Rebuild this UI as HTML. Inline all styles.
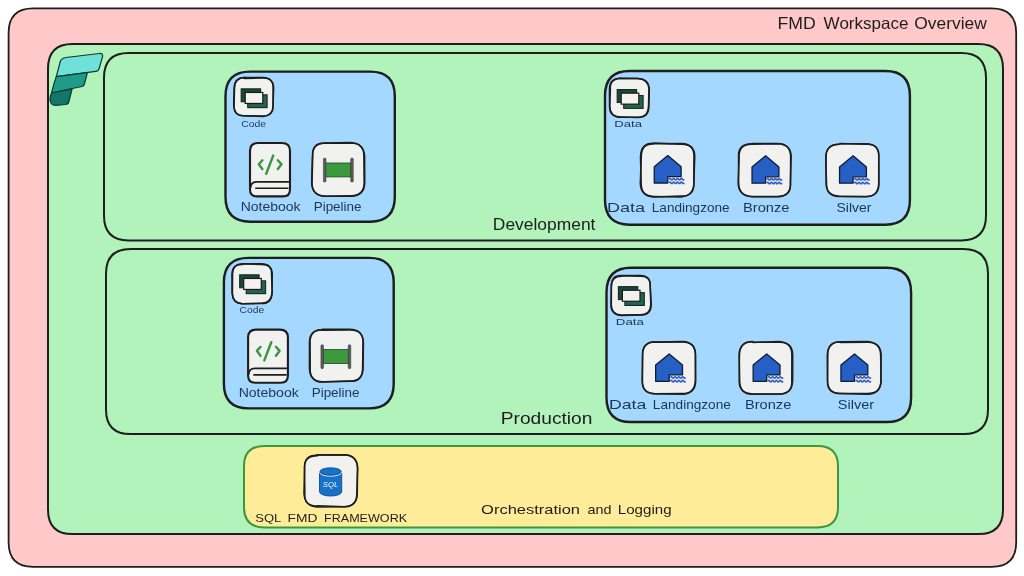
<!DOCTYPE html>
<html><head><meta charset="utf-8"><style>
html,body{margin:0;padding:0;background:#fff;width:1024px;height:576px;overflow:hidden}
svg{display:block}
text{font-family:"Liberation Sans",sans-serif}
svg{will-change:transform}
</style></head><body>
<svg width="1024" height="576" viewBox="0 0 1024 576">
<rect width="1024" height="576" fill="#ffffff"/>
<path d="M33.20 8.40L991.60 8.40Q1016.20 8.40 1016.20 33.00L1016.20 542.20Q1016.20 566.80 991.60 566.80L33.20 566.80Q8.60 566.80 8.60 542.20L8.60 33.00Q8.60 8.40 33.20 8.40Z" fill="#ffc9c9" stroke="#1e1e1e" stroke-width="1.8"/>
<path d="M72.60 44.00L978.40 44.00Q1003.00 44.00 1003.00 68.60L1003.00 509.40Q1003.00 534.00 978.40 534.00L72.60 534.00Q48.00 534.00 48.00 509.40L48.00 68.60Q48.00 44.00 72.60 44.00Z" fill="#b2f2bb" stroke="#1e1e1e" stroke-width="2"/>
<path d="M128.60 53.10L961.40 53.10Q986.00 53.10 986.00 77.70L986.00 215.80Q986.00 240.40 961.40 240.40L128.60 240.40Q104.00 240.40 104.00 215.80L104.00 77.70Q104.00 53.10 128.60 53.10Z" fill="#b2f2bb" stroke="#1e1e1e" stroke-width="2"/>
<path d="M130.60 249.00L963.40 249.00Q988.00 249.00 988.00 273.60L988.00 409.40Q988.00 434.00 963.40 434.00L130.60 434.00Q106.00 434.00 106.00 409.40L106.00 273.60Q106.00 249.00 130.60 249.00Z" fill="#b2f2bb" stroke="#1e1e1e" stroke-width="2"/>
<path d="M250.10 71.60L370.20 71.60Q394.80 71.60 394.80 96.20L394.80 197.10Q394.80 221.70 370.20 221.70L250.10 221.70Q225.50 221.70 225.50 197.10L225.50 96.20Q225.50 71.60 250.10 71.60Z" fill="#a5d8ff" stroke="#1e1e1e" stroke-width="2.4"/>
<path d="M629.60 71.00L885.30 71.00Q909.90 71.00 909.90 95.60L909.90 200.10Q909.90 224.70 885.30 224.70L629.60 224.70Q605.00 224.70 605.00 200.10L605.00 95.60Q605.00 71.00 629.60 71.00Z" fill="#a5d8ff" stroke="#1e1e1e" stroke-width="2.4"/>
<path d="M248.50 257.90L369.10 257.90Q393.70 257.90 393.70 282.50L393.70 383.80Q393.70 408.40 369.10 408.40L248.50 408.40Q223.90 408.40 223.90 383.80L223.90 282.50Q223.90 257.90 248.50 257.90Z" fill="#a5d8ff" stroke="#1e1e1e" stroke-width="2.4"/>
<path d="M631.10 267.80L886.50 267.80Q911.10 267.80 911.10 292.40L911.10 397.40Q911.10 422.00 886.50 422.00L631.10 422.00Q606.50 422.00 606.50 397.40L606.50 292.40Q606.50 267.80 631.10 267.80Z" fill="#a5d8ff" stroke="#1e1e1e" stroke-width="2.4"/>
<path d="M264.35 446.00L817.65 446.00Q838.00 446.00 838.00 466.35L838.00 507.05Q838.00 527.40 817.65 527.40L264.35 527.40Q244.00 527.40 244.00 507.05L244.00 466.35Q244.00 446.00 264.35 446.00Z" fill="#ffec99" stroke="#3c983d" stroke-width="2"/>
<path d="M244.50 78.00L263.10 78.00Q273.60 78.00 273.60 88.50L273.60 105.50Q273.60 116.00 263.10 116.00L244.50 116.00Q234.00 116.00 234.00 105.50L234.00 88.50Q234.00 78.00 244.50 78.00Z" fill="#f1f1f0" stroke="none"/>
<path d="M244.29 77.58L263.28 77.49Q273.64 77.84 273.07 88.51L273.04 105.42Q273.08 115.51 263.01 116.39L244.05 115.67Q234.15 116.54 234.09 105.38L234.57 87.96Q234.43 77.75 244.07 77.54" fill="none" stroke="#1e1e1e" stroke-width="1.5" stroke-linecap="round" stroke-linejoin="round"/>
<path d="M244.27 78.38L262.72 78.10Q273.77 77.85 273.66 87.98L273.07 105.15Q273.82 115.91 262.88 116.10L244.44 115.76Q234.35 116.24 233.69 105.59L234.03 88.95Q234.28 77.75 245.08 77.54" fill="none" stroke="#1e1e1e" stroke-width="1.5" stroke-linecap="round" stroke-linejoin="round"/>
<rect x="241.20" y="88.85" width="19.40" height="12.90" fill="#1c473a" stroke="#0f2a22" stroke-width="1.1"/>
<rect x="247.70" y="94.85" width="19.40" height="12.80" fill="#24634f" stroke="#0f2a22" stroke-width="1.1"/>
<rect x="245.20" y="92.45" width="17.60" height="11.00" fill="#f4f2f1" stroke="#1a1a1a" stroke-width="1.2"/>
<path d="M258.00 143.00L282.00 143.00Q290.00 143.00 290.00 151.00L290.00 189.40Q290.00 196.40 283.00 196.40L257.00 196.40Q250.00 196.40 250.00 189.40L250.00 151.00Q250.00 143.00 258.00 143.00Z" fill="#f1f1f0" stroke="#1e1e1e" stroke-width="2.1"/>
<path d="M250.50 188.00Q250.80 181.80 257.00 181.80L289.50 181.80" fill="none" stroke="#1e1e1e" stroke-width="1.8"/>
<path d="M255.20 188.30L288.50 188.30" fill="none" stroke="#1e1e1e" stroke-width="1.6"/>
<path d="M262.40 160.30L258.80 164.20L262.40 169.10M277.80 160.20L281.50 164.30L277.80 169.10M273.20 155.60L266.20 173.80" fill="none" stroke="#37963f" stroke-width="2.4" stroke-linecap="round" stroke-linejoin="round"/>
<path d="M325.23 143.00L351.27 143.00Q364.30 143.00 364.30 156.03L364.30 182.67Q364.30 195.70 351.27 195.70L325.23 195.70Q312.20 195.70 312.20 182.67L312.20 156.03Q312.20 143.00 325.23 143.00Z" fill="#f1f1f0" stroke="none"/>
<path d="M325.13 143.31L350.86 142.99Q363.75 143.20 364.62 156.11L364.75 182.45Q364.53 195.81 351.37 195.65L325.63 196.23Q312.17 195.90 311.67 182.92L312.38 156.62Q312.59 142.74 325.09 143.20" fill="none" stroke="#1e1e1e" stroke-width="1.5" stroke-linecap="round" stroke-linejoin="round"/>
<path d="M324.65 142.95L350.88 142.54Q363.77 143.32 363.86 155.72L364.17 183.12Q363.80 195.64 351.33 196.16L325.61 196.14Q311.93 195.60 312.03 183.14L312.75 155.61Q311.81 142.68 324.91 142.98" fill="none" stroke="#1e1e1e" stroke-width="1.5" stroke-linecap="round" stroke-linejoin="round"/>
<rect x="325.50" y="163.00" width="25.5" height="13.9" fill="#3c9a3e" stroke="#233d23" stroke-width="0.8"/>
<rect x="323.40" y="158.10" width="2.6" height="24" rx="1.2" fill="#5c5c5c" stroke="#333" stroke-width="0.5"/>
<rect x="350.70" y="158.10" width="2.6" height="24" rx="1.2" fill="#5c5c5c" stroke="#333" stroke-width="0.5"/>
<path d="M620.50 78.70L638.30 78.70Q648.80 78.70 648.80 89.20L648.80 106.50Q648.80 117.00 638.30 117.00L620.50 117.00Q610.00 117.00 610.00 106.50L610.00 89.20Q610.00 78.70 620.50 78.70Z" fill="#f1f1f0" stroke="none"/>
<path d="M620.61 78.42L637.70 78.60Q648.64 78.78 649.34 89.43L648.82 106.64Q649.01 116.46 638.78 117.34L620.95 117.36Q609.87 116.88 609.52 106.66L609.47 88.68Q609.65 78.29 620.31 78.16" fill="none" stroke="#1e1e1e" stroke-width="1.5" stroke-linecap="round" stroke-linejoin="round"/>
<path d="M619.90 78.28L637.82 78.54Q648.23 79.15 648.94 88.78L648.50 106.32Q648.64 116.55 638.72 117.59L620.46 116.98Q609.50 116.52 609.81 106.22L610.39 88.79Q609.43 79.24 620.53 78.28" fill="none" stroke="#1e1e1e" stroke-width="1.5" stroke-linecap="round" stroke-linejoin="round"/>
<rect x="617.20" y="89.55" width="19.40" height="12.90" fill="#1c473a" stroke="#0f2a22" stroke-width="1.1"/>
<rect x="623.70" y="95.55" width="19.40" height="12.80" fill="#24634f" stroke="#0f2a22" stroke-width="1.1"/>
<rect x="621.20" y="93.15" width="17.60" height="11.00" fill="#f4f2f1" stroke="#1a1a1a" stroke-width="1.2"/>
<path d="M654.00 143.60L681.00 143.60Q694.20 143.60 694.20 156.80L694.20 183.20Q694.20 196.40 681.00 196.40L654.00 196.40Q640.80 196.40 640.80 183.20L640.80 156.80Q640.80 143.60 654.00 143.60Z" fill="#f1f1f0" stroke="none"/>
<path d="M654.05 143.03L681.03 144.17Q694.64 143.84 693.91 156.64L693.80 183.53Q694.24 196.73 680.80 196.07L654.37 196.98Q641.22 196.77 641.18 183.49L640.47 156.82Q640.63 143.03 653.43 143.34" fill="none" stroke="#1e1e1e" stroke-width="1.5" stroke-linecap="round" stroke-linejoin="round"/>
<path d="M653.71 143.83L681.55 143.54Q694.72 144.19 694.75 156.64L693.86 182.87Q693.84 196.05 681.15 196.88L654.41 196.38Q640.98 196.76 640.30 183.39L641.29 157.14Q641.10 143.57 653.61 143.95" fill="none" stroke="#1e1e1e" stroke-width="1.5" stroke-linecap="round" stroke-linejoin="round"/>
<path d="M667.80 155.60L681.10 166.70L681.10 176.60L667.80 176.60L667.80 183.00L654.25 183.00L654.25 166.70Z" fill="#2660c4" stroke="#101c38" stroke-width="1.3" stroke-linejoin="round"/>
<path d="M669.00 179.20q0.95 -1.5 1.9 0q0.95 1.2 1.9 0q0.95 -1.5 1.9 0q0.95 1.2 1.9 0q0.95 -1.5 1.9 0q0.95 1.2 1.9 0q0.95 -1.5 1.9 0q0.95 1.2 1.9 0" fill="none" stroke="#3560c2" stroke-width="1.7"/>
<path d="M669.00 182.90q0.95 -1.5 1.9 0q0.95 1.2 1.9 0q0.95 -1.5 1.9 0q0.95 1.2 1.9 0q0.95 -1.5 1.9 0q0.95 1.2 1.9 0q0.95 -1.5 1.9 0q0.95 1.2 1.9 0" fill="none" stroke="#3560c2" stroke-width="1.7"/>
<path d="M751.67 143.80L777.83 143.80Q790.90 143.80 790.90 156.88L790.90 183.12Q790.90 196.20 777.83 196.20L751.67 196.20Q738.60 196.20 738.60 183.12L738.60 156.88Q738.60 143.80 751.67 143.80Z" fill="#f1f1f0" stroke="none"/>
<path d="M751.47 144.16L778.39 143.68Q790.78 144.34 791.17 156.48L790.45 182.71Q791.39 196.57 777.40 196.59L752.25 196.39Q738.42 196.26 738.16 182.54L739.17 157.05Q738.63 144.32 751.60 144.25" fill="none" stroke="#1e1e1e" stroke-width="1.5" stroke-linecap="round" stroke-linejoin="round"/>
<path d="M752.07 143.45L777.53 143.55Q790.59 143.90 790.61 156.78L790.46 183.62Q790.72 196.15 777.93 196.69L751.58 196.70Q738.60 196.24 738.63 182.55L738.53 156.49Q738.00 144.16 751.28 143.77" fill="none" stroke="#1e1e1e" stroke-width="1.5" stroke-linecap="round" stroke-linejoin="round"/>
<path d="M765.60 155.80L778.90 166.90L778.90 176.80L765.60 176.80L765.60 183.20L752.05 183.20L752.05 166.90Z" fill="#2660c4" stroke="#101c38" stroke-width="1.3" stroke-linejoin="round"/>
<path d="M766.80 179.40q0.95 -1.5 1.9 0q0.95 1.2 1.9 0q0.95 -1.5 1.9 0q0.95 1.2 1.9 0q0.95 -1.5 1.9 0q0.95 1.2 1.9 0q0.95 -1.5 1.9 0q0.95 1.2 1.9 0" fill="none" stroke="#3560c2" stroke-width="1.7"/>
<path d="M766.80 183.10q0.95 -1.5 1.9 0q0.95 1.2 1.9 0q0.95 -1.5 1.9 0q0.95 1.2 1.9 0q0.95 -1.5 1.9 0q0.95 1.2 1.9 0q0.95 -1.5 1.9 0q0.95 1.2 1.9 0" fill="none" stroke="#3560c2" stroke-width="1.7"/>
<path d="M839.20 143.80L866.10 143.80Q879.20 143.80 879.20 156.90L879.20 183.10Q879.20 196.20 866.10 196.20L839.20 196.20Q826.10 196.20 826.10 183.10L826.10 156.90Q826.10 143.80 839.20 143.80Z" fill="#f1f1f0" stroke="none"/>
<path d="M839.47 143.87L865.89 143.82Q879.27 144.14 878.73 156.97L878.90 182.83Q879.53 196.21 866.17 196.51L839.69 196.13Q826.24 196.21 826.11 183.33L826.04 156.94Q826.07 144.33 839.44 144.25" fill="none" stroke="#1e1e1e" stroke-width="1.5" stroke-linecap="round" stroke-linejoin="round"/>
<path d="M839.73 143.51L866.17 144.33Q879.61 143.36 878.75 156.83L878.69 182.79Q878.69 196.40 866.44 196.68L838.79 196.46Q826.29 195.77 826.56 183.66L825.76 157.44Q825.98 143.78 839.79 144.20" fill="none" stroke="#1e1e1e" stroke-width="1.5" stroke-linecap="round" stroke-linejoin="round"/>
<path d="M853.10 155.80L866.40 166.90L866.40 176.80L853.10 176.80L853.10 183.20L839.55 183.20L839.55 166.90Z" fill="#2660c4" stroke="#101c38" stroke-width="1.3" stroke-linejoin="round"/>
<path d="M854.30 179.40q0.95 -1.5 1.9 0q0.95 1.2 1.9 0q0.95 -1.5 1.9 0q0.95 1.2 1.9 0q0.95 -1.5 1.9 0q0.95 1.2 1.9 0q0.95 -1.5 1.9 0q0.95 1.2 1.9 0" fill="none" stroke="#3560c2" stroke-width="1.7"/>
<path d="M854.30 183.10q0.95 -1.5 1.9 0q0.95 1.2 1.9 0q0.95 -1.5 1.9 0q0.95 1.2 1.9 0q0.95 -1.5 1.9 0q0.95 1.2 1.9 0q0.95 -1.5 1.9 0q0.95 1.2 1.9 0" fill="none" stroke="#3560c2" stroke-width="1.7"/>
<path d="M243.00 264.00L261.50 264.00Q272.00 264.00 272.00 274.50L272.00 292.70Q272.00 303.20 261.50 303.20L243.00 303.20Q232.50 303.20 232.50 292.70L232.50 274.50Q232.50 264.00 243.00 264.00Z" fill="#f1f1f0" stroke="none"/>
<path d="M242.59 263.92L261.52 263.81Q271.63 263.78 272.27 273.92L272.06 292.63Q271.42 303.00 261.65 303.21L242.48 303.78Q232.85 303.77 232.03 292.42L231.95 274.83Q232.22 263.56 242.91 264.49" fill="none" stroke="#1e1e1e" stroke-width="1.5" stroke-linecap="round" stroke-linejoin="round"/>
<path d="M243.38 263.71L261.08 264.50Q272.08 264.24 271.51 273.97L272.23 292.61Q271.49 303.73 261.66 303.56L242.50 303.63Q231.98 303.64 232.44 292.51L232.56 275.01Q232.22 263.56 243.03 263.69" fill="none" stroke="#1e1e1e" stroke-width="1.5" stroke-linecap="round" stroke-linejoin="round"/>
<rect x="239.70" y="274.85" width="19.40" height="12.90" fill="#1c473a" stroke="#0f2a22" stroke-width="1.1"/>
<rect x="246.20" y="280.85" width="19.40" height="12.80" fill="#24634f" stroke="#0f2a22" stroke-width="1.1"/>
<rect x="243.70" y="278.45" width="17.60" height="11.00" fill="#f4f2f1" stroke="#1a1a1a" stroke-width="1.2"/>
<path d="M256.10 329.60L279.90 329.60Q287.90 329.60 287.90 337.60L287.90 375.70Q287.90 382.70 280.90 382.70L255.10 382.70Q248.10 382.70 248.10 375.70L248.10 337.60Q248.10 329.60 256.10 329.60Z" fill="#f1f1f0" stroke="#1e1e1e" stroke-width="2.1"/>
<path d="M248.60 374.60Q248.90 368.40 255.10 368.40L287.40 368.40" fill="none" stroke="#1e1e1e" stroke-width="1.8"/>
<path d="M253.30 374.90L286.60 374.90" fill="none" stroke="#1e1e1e" stroke-width="1.6"/>
<path d="M260.50 346.90L256.90 350.80L260.50 355.70M275.90 346.80L279.60 350.90L275.90 355.70M271.30 342.20L264.30 360.40" fill="none" stroke="#37963f" stroke-width="2.4" stroke-linecap="round" stroke-linejoin="round"/>
<path d="M322.72 329.60L350.08 329.60Q363.10 329.60 363.10 342.62L363.10 368.68Q363.10 381.70 350.08 381.70L322.72 381.70Q309.70 381.70 309.70 368.68L309.70 342.62Q309.70 329.60 322.72 329.60Z" fill="#f1f1f0" stroke="none"/>
<path d="M322.26 329.19L349.54 329.24Q362.87 329.37 363.41 342.37L363.10 368.29Q362.92 381.12 349.78 381.12L323.00 381.76Q309.33 381.67 310.22 368.20L310.08 342.54Q309.69 330.00 322.60 329.61" fill="none" stroke="#1e1e1e" stroke-width="1.5" stroke-linecap="round" stroke-linejoin="round"/>
<path d="M322.95 330.18L349.89 330.00Q363.35 329.76 362.99 342.44L362.57 368.23Q362.58 381.99 349.78 381.30L322.23 382.11Q310.14 381.90 309.44 368.37L309.45 342.58Q309.29 329.53 322.44 330.15" fill="none" stroke="#1e1e1e" stroke-width="1.5" stroke-linecap="round" stroke-linejoin="round"/>
<rect x="323.00" y="349.60" width="25.5" height="13.9" fill="#3c9a3e" stroke="#233d23" stroke-width="0.8"/>
<rect x="320.90" y="344.70" width="2.6" height="24" rx="1.2" fill="#5c5c5c" stroke="#333" stroke-width="0.5"/>
<rect x="348.20" y="344.70" width="2.6" height="24" rx="1.2" fill="#5c5c5c" stroke="#333" stroke-width="0.5"/>
<path d="M621.70 275.80L640.30 275.80Q650.80 275.80 650.80 286.30L650.80 304.50Q650.80 315.00 640.30 315.00L621.70 315.00Q611.20 315.00 611.20 304.50L611.20 286.30Q611.20 275.80 621.70 275.80Z" fill="#f1f1f0" stroke="none"/>
<path d="M622.27 275.86L639.99 276.36Q650.57 275.63 650.20 286.16L650.77 304.50Q650.44 315.01 639.71 314.72L621.21 314.88Q610.65 314.43 610.97 304.18L611.30 286.34Q611.50 275.99 621.96 276.25" fill="none" stroke="#1e1e1e" stroke-width="1.5" stroke-linecap="round" stroke-linejoin="round"/>
<path d="M621.57 275.59L640.88 275.38Q651.07 275.97 650.25 286.70L651.27 304.65Q651.08 315.37 639.87 315.03L621.71 315.40Q611.57 315.39 611.30 304.97L611.42 286.53Q610.88 275.24 621.26 275.63" fill="none" stroke="#1e1e1e" stroke-width="1.5" stroke-linecap="round" stroke-linejoin="round"/>
<rect x="618.40" y="286.65" width="19.40" height="12.90" fill="#1c473a" stroke="#0f2a22" stroke-width="1.1"/>
<rect x="624.90" y="292.65" width="19.40" height="12.80" fill="#24634f" stroke="#0f2a22" stroke-width="1.1"/>
<rect x="622.40" y="290.25" width="17.60" height="11.00" fill="#f4f2f1" stroke="#1a1a1a" stroke-width="1.2"/>
<path d="M655.23 341.90L682.27 341.90Q695.30 341.90 695.30 354.92L695.30 380.98Q695.30 394.00 682.27 394.00L655.23 394.00Q642.20 394.00 642.20 380.98L642.20 354.92Q642.20 341.90 655.23 341.90Z" fill="#f1f1f0" stroke="none"/>
<path d="M654.75 342.30L682.35 342.05Q695.45 342.12 695.29 354.33L695.66 381.27Q695.30 394.04 682.47 393.48L655.51 393.70Q641.69 393.72 642.48 380.62L642.49 355.50Q642.19 341.76 655.20 342.12" fill="none" stroke="#1e1e1e" stroke-width="1.5" stroke-linecap="round" stroke-linejoin="round"/>
<path d="M655.55 342.04L682.45 341.39Q694.88 341.60 695.59 354.69L695.38 380.39Q694.77 393.72 682.48 394.23L655.44 393.75Q642.22 393.96 642.16 380.52L642.67 354.56Q642.77 342.42 654.65 341.85" fill="none" stroke="#1e1e1e" stroke-width="1.5" stroke-linecap="round" stroke-linejoin="round"/>
<path d="M669.20 353.90L682.50 365.00L682.50 374.90L669.20 374.90L669.20 381.30L655.65 381.30L655.65 365.00Z" fill="#2660c4" stroke="#101c38" stroke-width="1.3" stroke-linejoin="round"/>
<path d="M670.40 377.50q0.95 -1.5 1.9 0q0.95 1.2 1.9 0q0.95 -1.5 1.9 0q0.95 1.2 1.9 0q0.95 -1.5 1.9 0q0.95 1.2 1.9 0q0.95 -1.5 1.9 0q0.95 1.2 1.9 0" fill="none" stroke="#3560c2" stroke-width="1.7"/>
<path d="M670.40 381.20q0.95 -1.5 1.9 0q0.95 1.2 1.9 0q0.95 -1.5 1.9 0q0.95 1.2 1.9 0q0.95 -1.5 1.9 0q0.95 1.2 1.9 0q0.95 -1.5 1.9 0q0.95 1.2 1.9 0" fill="none" stroke="#3560c2" stroke-width="1.7"/>
<path d="M752.73 341.90L779.18 341.90Q792.20 341.90 792.20 354.92L792.20 380.98Q792.20 394.00 779.18 394.00L752.73 394.00Q739.70 394.00 739.70 380.98L739.70 354.92Q739.70 341.90 752.73 341.90Z" fill="#f1f1f0" stroke="none"/>
<path d="M753.11 342.46L779.11 341.62Q791.85 342.43 791.85 355.02L791.77 381.00Q792.74 393.56 779.56 394.01L753.19 394.24Q739.38 394.48 739.68 380.40L739.10 354.92Q739.64 341.66 752.29 341.71" fill="none" stroke="#1e1e1e" stroke-width="1.5" stroke-linecap="round" stroke-linejoin="round"/>
<path d="M752.50 342.31L778.58 342.20Q792.61 341.44 792.71 355.18L792.68 380.72Q792.05 393.87 779.77 394.11L752.56 393.91Q739.43 393.46 739.22 381.38L739.44 355.45Q739.40 341.62 752.74 341.53" fill="none" stroke="#1e1e1e" stroke-width="1.5" stroke-linecap="round" stroke-linejoin="round"/>
<path d="M766.70 353.90L780.00 365.00L780.00 374.90L766.70 374.90L766.70 381.30L753.15 381.30L753.15 365.00Z" fill="#2660c4" stroke="#101c38" stroke-width="1.3" stroke-linejoin="round"/>
<path d="M767.90 377.50q0.95 -1.5 1.9 0q0.95 1.2 1.9 0q0.95 -1.5 1.9 0q0.95 1.2 1.9 0q0.95 -1.5 1.9 0q0.95 1.2 1.9 0q0.95 -1.5 1.9 0q0.95 1.2 1.9 0" fill="none" stroke="#3560c2" stroke-width="1.7"/>
<path d="M767.90 381.20q0.95 -1.5 1.9 0q0.95 1.2 1.9 0q0.95 -1.5 1.9 0q0.95 1.2 1.9 0q0.95 -1.5 1.9 0q0.95 1.2 1.9 0q0.95 -1.5 1.9 0q0.95 1.2 1.9 0" fill="none" stroke="#3560c2" stroke-width="1.7"/>
<path d="M840.52 341.90L867.58 341.90Q880.60 341.90 880.60 354.92L880.60 380.98Q880.60 394.00 867.58 394.00L840.52 394.00Q827.50 394.00 827.50 380.98L827.50 354.92Q827.50 341.90 840.52 341.90Z" fill="#f1f1f0" stroke="none"/>
<path d="M840.37 342.45L868.04 342.27Q880.76 342.40 881.13 354.98L880.86 380.43Q880.88 393.94 867.88 394.17L840.27 393.46Q828.01 393.55 827.47 380.79L827.26 355.21Q828.07 341.61 840.71 341.66" fill="none" stroke="#1e1e1e" stroke-width="1.5" stroke-linecap="round" stroke-linejoin="round"/>
<path d="M840.59 341.77L867.18 341.49Q880.25 342.39 880.60 354.59L881.09 381.57Q880.54 393.57 867.21 393.51L840.34 393.51Q827.19 393.71 827.58 381.44L827.80 354.82Q827.40 341.93 840.38 341.71" fill="none" stroke="#1e1e1e" stroke-width="1.5" stroke-linecap="round" stroke-linejoin="round"/>
<path d="M854.50 353.90L867.80 365.00L867.80 374.90L854.50 374.90L854.50 381.30L840.95 381.30L840.95 365.00Z" fill="#2660c4" stroke="#101c38" stroke-width="1.3" stroke-linejoin="round"/>
<path d="M855.70 377.50q0.95 -1.5 1.9 0q0.95 1.2 1.9 0q0.95 -1.5 1.9 0q0.95 1.2 1.9 0q0.95 -1.5 1.9 0q0.95 1.2 1.9 0q0.95 -1.5 1.9 0q0.95 1.2 1.9 0" fill="none" stroke="#3560c2" stroke-width="1.7"/>
<path d="M855.70 381.20q0.95 -1.5 1.9 0q0.95 1.2 1.9 0q0.95 -1.5 1.9 0q0.95 1.2 1.9 0q0.95 -1.5 1.9 0q0.95 1.2 1.9 0q0.95 -1.5 1.9 0q0.95 1.2 1.9 0" fill="none" stroke="#3560c2" stroke-width="1.7"/>
<path d="M317.20 455.20L344.30 455.20Q357.10 455.20 357.10 468.00L357.10 493.60Q357.10 506.40 344.30 506.40L317.20 506.40Q304.40 506.40 304.40 493.60L304.40 468.00Q304.40 455.20 317.20 455.20Z" fill="#f1f1f0" stroke="none"/>
<path d="M316.67 454.93L344.86 454.75Q357.10 455.36 357.54 467.66L356.83 493.30Q356.98 506.34 344.84 506.82L317.65 505.83Q303.84 506.65 304.87 493.57L304.50 467.40Q304.27 455.71 317.59 455.63" fill="none" stroke="#1e1e1e" stroke-width="1.5" stroke-linecap="round" stroke-linejoin="round"/>
<path d="M317.77 454.90L343.83 454.79Q357.13 455.42 357.63 468.27L357.28 493.92Q357.05 506.46 343.75 506.74L316.88 506.90Q304.57 506.16 303.95 493.30L304.56 468.24Q303.93 454.68 317.23 455.30" fill="none" stroke="#1e1e1e" stroke-width="1.5" stroke-linecap="round" stroke-linejoin="round"/>
<path d="M319.50 472.00L319.50 491.80A11.10 4.2 0 0 0 341.70 491.80L341.70 472.00Z" fill="#1672c6" stroke="#0b4b8c" stroke-width="0.9"/>
<path d="M319.50 472.00A11.10 4.2 0 0 0 341.70 472.00" fill="none" stroke="#e6eef6" stroke-width="1"/>
<ellipse cx="330.60" cy="471.40" rx="10.50" ry="3.6" fill="#1672c6" stroke="#0b4b8c" stroke-width="0.8"/>
<text x="330.60" y="487.40" font-size="7.5" font-style="italic" text-anchor="middle" fill="#f4f8fc" textLength="15.5" lengthAdjust="spacingAndGlyphs">SQL</text>
<path d="M56.3 76.6L60.2 61.8Q61.4 57.9 66 57.5L99.3 53.5Q103.3 53.1 102.5 56.8L99.1 68.6Q98.4 71.1 95.6 71.4Z" fill="#70e1d9" stroke="#0c3a31" stroke-width="1.25" stroke-linejoin="round"/>
<path d="M56.3 76.6L87.4 72.6L84.4 84Q83.9 86 81.8 86.5L51.6 93Q53.5 84 56.3 76.6Z" fill="#1f9c89" stroke="#0c3a31" stroke-width="1.25" stroke-linejoin="round"/>
<path d="M51.6 93L72.1 88.8L68.9 101.5Q68.2 104.2 65.5 104.5L56 105.3Q50.5 105.6 50 99.5Q49.9 96 51.6 93Z" fill="#127668" stroke="#0c3a31" stroke-width="1.25" stroke-linejoin="round"/>
<text x="777.55" y="29.10" font-size="16.5" textLength="38.30" lengthAdjust="spacingAndGlyphs" fill="#1e1e1e">FMD</text>
<text x="823.63" y="29.10" font-size="16.5" textLength="84.83" lengthAdjust="spacingAndGlyphs" fill="#1e1e1e">Workspace</text>
<text x="914.28" y="29.10" font-size="16.5" textLength="72.58" lengthAdjust="spacingAndGlyphs" fill="#1e1e1e">Overview</text>
<text x="492.87" y="229.70" font-size="16.5" textLength="102.56" lengthAdjust="spacingAndGlyphs" fill="#1e1e1e">Development</text>
<text x="500.73" y="424.10" font-size="16.5" textLength="91.72" lengthAdjust="spacingAndGlyphs" fill="#1e1e1e">Production</text>
<text x="481.12" y="513.60" font-size="13.5" textLength="98.95" lengthAdjust="spacingAndGlyphs" fill="#1e1e1e">Orchestration</text>
<text x="587.59" y="513.60" font-size="13.5" textLength="24.04" lengthAdjust="spacingAndGlyphs" fill="#1e1e1e">and</text>
<text x="617.76" y="513.60" font-size="13.5" textLength="53.92" lengthAdjust="spacingAndGlyphs" fill="#1e1e1e">Logging</text>
<text x="255.31" y="522.10" font-size="11.8" textLength="26.02" lengthAdjust="spacingAndGlyphs" fill="#1e1e1e">SQL</text>
<text x="287.57" y="522.10" font-size="11.8" textLength="29.89" lengthAdjust="spacingAndGlyphs" fill="#1e1e1e">FMD</text>
<text x="323.97" y="522.10" font-size="11.8" textLength="83.17" lengthAdjust="spacingAndGlyphs" fill="#1e1e1e">FRAMEWORK</text>
<text x="241.27" y="127.10" font-size="8.5" textLength="24.79" lengthAdjust="spacingAndGlyphs" fill="#1b3553">Code</text>
<text x="239.48" y="312.80" font-size="8.5" textLength="24.68" lengthAdjust="spacingAndGlyphs" fill="#1b3553">Code</text>
<text x="614.22" y="127.40" font-size="8.5" textLength="27.78" lengthAdjust="spacingAndGlyphs" fill="#1b3553">Data</text>
<text x="615.81" y="324.60" font-size="8.5" textLength="28.09" lengthAdjust="spacingAndGlyphs" fill="#1b3553">Data</text>
<text x="240.65" y="211.00" font-size="13.5" textLength="59.83" lengthAdjust="spacingAndGlyphs" fill="#1b3553">Notebook</text>
<text x="313.70" y="211.00" font-size="13.5" textLength="47.80" lengthAdjust="spacingAndGlyphs" fill="#1b3553">Pipeline</text>
<text x="238.65" y="396.60" font-size="13.5" textLength="60.13" lengthAdjust="spacingAndGlyphs" fill="#1b3553">Notebook</text>
<text x="311.70" y="396.60" font-size="13.5" textLength="47.80" lengthAdjust="spacingAndGlyphs" fill="#1b3553">Pipeline</text>
<text x="606.93" y="212.00" font-size="13.5" textLength="37.97" lengthAdjust="spacingAndGlyphs" fill="#1b3553">Data</text>
<text x="651.79" y="212.00" font-size="13.5" textLength="77.82" lengthAdjust="spacingAndGlyphs" fill="#1b3553">Landingzone</text>
<text x="742.99" y="212.00" font-size="13.5" textLength="46.56" lengthAdjust="spacingAndGlyphs" fill="#1b3553">Bronze</text>
<text x="836.46" y="212.00" font-size="13.5" textLength="35.07" lengthAdjust="spacingAndGlyphs" fill="#1b3553">Silver</text>
<text x="608.95" y="408.80" font-size="13.5" textLength="37.45" lengthAdjust="spacingAndGlyphs" fill="#1b3553">Data</text>
<text x="652.88" y="408.80" font-size="13.5" textLength="77.92" lengthAdjust="spacingAndGlyphs" fill="#1b3553">Landingzone</text>
<text x="745.00" y="408.80" font-size="13.5" textLength="46.25" lengthAdjust="spacingAndGlyphs" fill="#1b3553">Bronze</text>
<text x="837.84" y="408.80" font-size="13.5" textLength="36.40" lengthAdjust="spacingAndGlyphs" fill="#1b3553">Silver</text>
</svg>
</body></html>
